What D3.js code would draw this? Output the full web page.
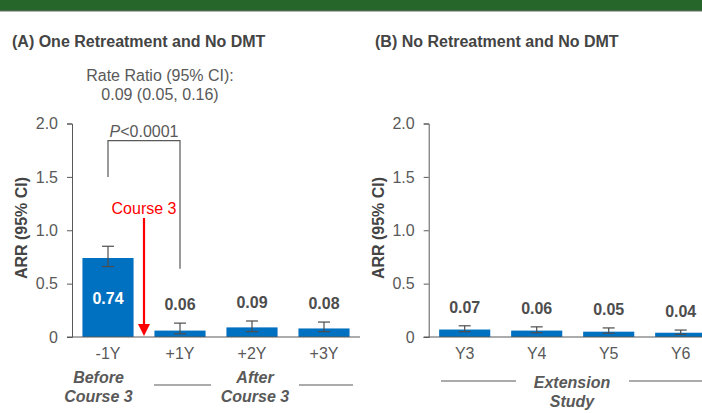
<!DOCTYPE html>
<html>
<head>
<meta charset="utf-8">
<script src="https://cdn.jsdelivr.net/npm/d3@7"></script>
<style>
  body { margin: 0; background: #fff; }
  svg { display: block; font-family: "Liberation Sans", Arial, sans-serif; }
  .axis path, .axis line { stroke: #595959; }
  .axis text { fill: #595959; font-size: 16px; }
</style>
</head>
<body>
<svg width="702" height="413"></svg>
<script>
// panel A data
const catsA = ['-1Y', '+1Y', '+2Y', '+3Y'];
const valsA = [0.74, 0.06, 0.09, 0.08];
const loA = [0.66, 0.03, 0.05, 0.05];
const hiA = [0.85, 0.13, 0.15, 0.14];

// panel B data
const catsB = ['Y3', 'Y4', 'Y5', 'Y6'];
const valsB = [0.07, 0.06, 0.05, 0.04];
const loB = [0.05, 0.04, 0.035, 0.025];
const hiB = [0.105, 0.095, 0.085, 0.065];

const yTicks = [0, 0.5, 1.0, 1.5, 2.0];

const svg = d3.select('svg');
const grey = '#595959';
const blue = '#0070c0';

// top band
svg.append('rect').attr('x', 0).attr('y', 0).attr('width', 702).attr('height', 11).attr('fill', '#27662a');
svg.append('line').attr('x1', 0).attr('x2', 702).attr('y1', 11).attr('y2', 11).attr('stroke', '#6b6b6b');

const y = d3.scaleLinear().domain([0, 2]).range([337, 123.5]);

function panel(cats, vals, lo, hi, x0, title, titleX) {
    const x = d3.scaleBand().domain(cats).range([x0, x0 + 288]).paddingInner(0.29).paddingOuter(0.145);
    const g = svg.append('g');

    g.append('text').attr('x', titleX).attr('y', 47)
        .attr('font-size', 16).attr('font-weight', 'bold').attr('fill', '#444')
        .text(title);

    g.append('g').attr('class', 'axis')
        .attr('transform', `translate(${x0},0)`)
        .call(d3.axisLeft(y).tickValues(yTicks).tickSize(5).tickPadding(9)
            .tickFormat(d => d === 0 ? '0' : d3.format('.1f')(d)));

    g.append('text')
        .attr('transform', `translate(${x0 - 45},${228}) rotate(-90)`)
        .attr('text-anchor', 'middle')
        .attr('font-size', 16).attr('font-weight', 'bold').attr('fill', '#444')
        .text('ARR (95% CI)');

    g.selectAll('rect.bar').data(vals).enter().append('rect')
        .attr('class', 'bar')
        .attr('x', (d, i) => x(cats[i]))
        .attr('y', d => y(d))
        .attr('width', x.bandwidth())
        .attr('height', d => y(0) - y(d))
        .attr('fill', blue);

    // error bars
    const eb = g.selectAll('g.eb').data(vals).enter().append('g')
        .attr('stroke', '#4d4d4d').attr('stroke-width', 1.2);
    eb.append('line')
        .attr('x1', (d, i) => x(cats[i]) + x.bandwidth() / 2)
        .attr('x2', (d, i) => x(cats[i]) + x.bandwidth() / 2)
        .attr('y1', (d, i) => y(lo[i])).attr('y2', (d, i) => y(hi[i]));
    [lo, hi].forEach(arr => {
        eb.append('line')
            .attr('x1', (d, i) => x(cats[i]) + x.bandwidth() / 2 - 6)
            .attr('x2', (d, i) => x(cats[i]) + x.bandwidth() / 2 + 6)
            .attr('y1', (d, i) => y(arr[i])).attr('y2', (d, i) => y(arr[i]));
    });

    // value labels
    g.selectAll('text.val').data(vals).enter().append('text')
        .attr('class', 'val')
        .attr('x', (d, i) => x(cats[i]) + x.bandwidth() / 2)
        .attr('y', (d, i) => d > 0.5 ? y(d / 2) + 6 : y(hi[i]) - 13)
        .attr('text-anchor', 'middle')
        .attr('font-size', 16).attr('font-weight', 'bold')
        .attr('fill', d => d > 0.5 ? '#fff' : '#4d4d4d')
        .text(d => d3.format('.2f')(d));

    // x axis
    const xa = g.append('g').attr('class', 'axis')
        .attr('transform', `translate(0,${y(0)})`)
        .call(d3.axisBottom(x).tickSize(0).tickPadding(11));
    xa.select('.domain').attr('d', `M${x0 - 5},0H${x0 + 288}`);

    return x;
}

const xA = panel(catsA, valsA, loA, hiA, 72, '(A) One Retreatment and No DMT', 12);
const xB = panel(catsB, valsB, loB, hiB, 428.7, '(B) No Retreatment and No DMT', 375);

// Rate ratio
svg.append('text').attr('x', 160).attr('y', 81).attr('text-anchor', 'middle')
    .attr('font-size', 16).attr('fill', grey).text('Rate Ratio (95% CI):');
svg.append('text').attr('x', 160).attr('y', 100).attr('text-anchor', 'middle')
    .attr('font-size', 16).attr('fill', grey).text('0.09 (0.05, 0.16)');

// bracket
const bx1 = xA('-1Y') + xA.bandwidth() / 2;
const bx2 = xA('+1Y') + xA.bandwidth() / 2;
svg.append('path')
    .attr('d', `M${bx1},${y(1.5)}V${y(1.84)}H${bx2}V${y(0.64)}`)
    .attr('fill', 'none').attr('stroke', '#595959').attr('stroke-width', 1.2);
const pt = svg.append('text').attr('x', (bx1 + bx2) / 2).attr('y', 137).attr('text-anchor', 'middle')
    .attr('font-size', 16).attr('fill', grey);
pt.append('tspan').attr('font-style', 'italic').text('P');
pt.append('tspan').text('<0.0001');

// Course 3 arrow
const ax = (xA('-1Y') + xA.bandwidth() + xA('+1Y')) / 2;
svg.append('text').attr('x', ax).attr('y', 214).attr('text-anchor', 'middle')
    .attr('font-size', 16).attr('fill', '#ff0000').text('Course 3');
svg.append('line').attr('x1', ax).attr('x2', ax).attr('y1', 218).attr('y2', 326)
    .attr('stroke', '#ff0000').attr('stroke-width', 2.2);
svg.append('path').attr('d', `M${ax - 6},${324}L${ax + 6},${324}L${ax},${336}Z`).attr('fill', '#ff0000');

// group labels
function label(lines, cx, y0) {
    lines.forEach((t, i) => {
        svg.append('text').attr('x', cx).attr('y', y0 + i * 18.5).attr('text-anchor', 'middle')
            .attr('font-size', 16).attr('font-weight', 'bold').attr('font-style', 'italic')
            .attr('fill', '#595959').text(t);
    });
}
function hline(x1, x2, yy) {
    svg.append('line').attr('x1', x1).attr('x2', x2).attr('y1', yy).attr('y2', yy)
        .attr('stroke', '#595959').attr('stroke-width', 1.2);
}
label(['Before', 'Course 3'], 98.5, 383);
label(['After', 'Course 3'], 255, 383);
hline(154, 211, 385);
hline(299, 353, 385);
label(['Extension', 'Study'], 572, 388);
hline(441, 516, 381);
hline(629, 702, 381);
</script>
</body>
</html>
